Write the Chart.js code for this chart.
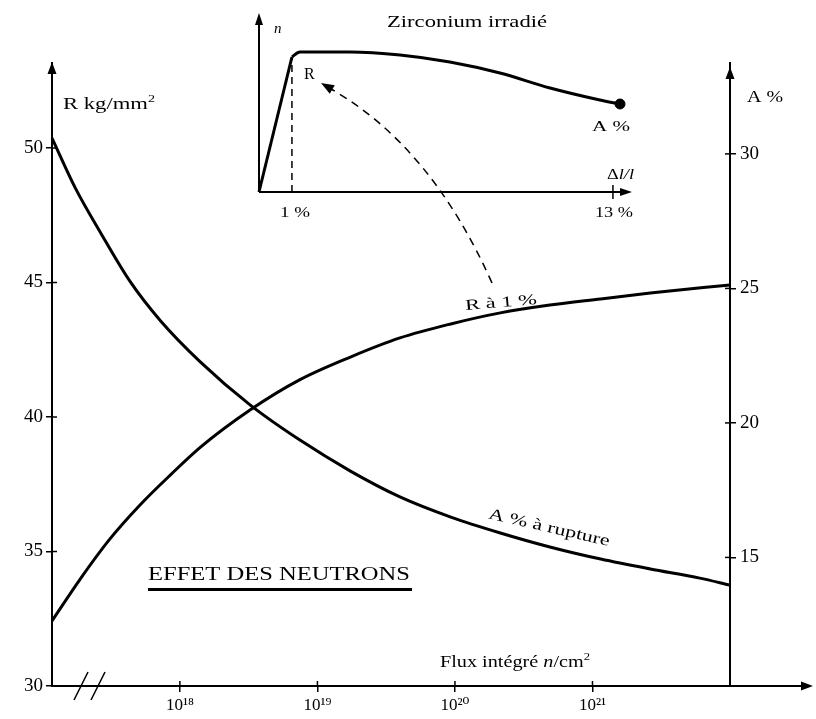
<!DOCTYPE html>
<html>
<head>
<meta charset="utf-8">
<script src="https://cdn.jsdelivr.net/npm/chart.js@4.4.1/dist/chart.umd.min.js"></script>
<style>
html, body { margin: 0; padding: 0; background: #fff; }
#wrap { position: relative; width: 816px; height: 719px; }
#wrap canvas { position: absolute; left: 0; top: 0; }
</style>
</head>
<body>
<div id="wrap">
  <canvas id="main" width="816" height="719"></canvas>
  <canvas id="inset" width="816" height="719"></canvas>
</div>
<script>
// main chart : flux (log10 n/cm2) -> R a 1 % (kg/mm2) and A % a rupture
const fluxR = [17.07, 17.27, 17.49, 17.71, 17.93, 18.15, 18.51, 18.87, 19.24, 19.60, 19.97, 20.33, 20.69, 21.06, 21.42, 22.0];
const resistR = [32.42, 33.94, 35.46, 36.73, 37.84, 38.88, 40.26, 41.38, 42.23, 42.94, 43.46, 43.87, 44.16, 44.39, 44.61, 44.91];
const fluxA = [17.07, 17.24, 17.42, 17.64, 17.86, 18.15, 18.51, 18.87, 19.24, 19.60, 19.97, 20.33, 20.69, 21.06, 21.42, 21.78, 22.0];
const allongA = [30.59, 28.73, 27.10, 25.24, 23.79, 22.26, 20.67, 19.37, 18.21, 17.25, 16.50, 15.91, 15.39, 14.94, 14.57, 14.23, 13.97];
const fluxTicks = [18, 19, 20, 21];
const rTicks = [30, 35, 40, 45, 50];
const aTicks = [15, 20, 25, 30];

// inset : traction curve of irradiated zirconium
const strainLin = [0, 1.21];
const stressLin = [0, 13.5];
const strainCurve = [1.21, 1.5, 3.34, 5.18, 7.01, 8.85, 10.69, 12.52, 13.26];
const stressCurve = [13.5, 14.0, 14.0, 13.7, 13.0, 11.9, 10.4, 9.2, 8.8];

const SERIF = '"Liberation Serif", "DejaVu Serif", serif';
const SUP = { '0': '⁰', '1': '¹', '2': '²', '3': '³', '4': '⁴', '5': '⁵', '6': '⁶', '7': '⁷', '8': '⁸', '9': '⁹' };

const pts = (xs, ys) => xs.map((x, i) => ({ x: x, y: ys[i] }));

function line(ctx, x1, y1, x2, y2) {
    ctx.beginPath();
    ctx.moveTo(x1, y1);
    ctx.lineTo(x2, y2);
    ctx.stroke();
}

function arrow(ctx, x, y, dx, dy, len, w) {
    len = len || 12; w = w || 4.5;
    ctx.beginPath();
    ctx.moveTo(x, y);
    ctx.lineTo(x - dx * len - dy * w, y - dy * len + dx * w);
    ctx.lineTo(x - dx * len + dy * w, y - dy * len - dx * w);
    ctx.closePath();
    ctx.fill();
}

// parts: [{t, italic, sup}]
function rich(ctx, parts, x, y, o) {
    o = o || {};
    const size = o.size || 16;
    ctx.save();
    ctx.textBaseline = 'middle';
    ctx.textAlign = 'left';
    const fontOf = p => (p.italic ? 'italic ' : '') + (p.sup ? Math.round(size * 0.65) : size) + 'px ' + SERIF;
    let w = 0;
    parts.forEach(p => { ctx.font = fontOf(p); p.w = ctx.measureText(p.t).width; w += p.w; });
    ctx.translate(x, y);
    if (o.rot) ctx.rotate(o.rot * Math.PI / 180);
    if (o.width) ctx.scale(o.width / w, 1);
    let cx = o.align === 'center' ? -w / 2 : 0;
    parts.forEach(p => {
        ctx.font = fontOf(p);
        ctx.fillText(p.t, cx, p.sup ? -size * 0.35 : 0);
        cx += p.w;
    });
    ctx.restore();
}

const mainDecor = {
    id: 'mainDecor',
    afterDraw(chart) {
        const { ctx, chartArea: a, scales } = chart;
        ctx.save();
        ctx.strokeStyle = '#000';
        ctx.fillStyle = '#000';
        ctx.lineWidth = 1.5;
        // inner halves of the tick marks
        rTicks.forEach(v => { const py = scales.yR.getPixelForValue(v); line(ctx, a.left, py, a.left + 5, py); });
        aTicks.forEach(v => { const py = scales.yA.getPixelForValue(v); line(ctx, a.right - 5, py, a.right, py); });
        fluxTicks.forEach(v => { const px = scales.x.getPixelForValue(v); line(ctx, px, a.bottom - 5, px, a.bottom); });

        // arrows
        arrow(ctx, a.left, a.top - 1, 0, -1);
        arrow(ctx, a.right, a.top + 4, 0, -1);
        ctx.lineWidth = 2;
        line(ctx, a.right, a.bottom, 804, a.bottom);
        arrow(ctx, 813, a.bottom, 1, 0);

        // axis break
        ctx.lineWidth = 1.5;
        line(ctx, 74, a.bottom + 14, 88, a.bottom - 14);
        line(ctx, 91, a.bottom + 14, 105, a.bottom - 14);

        // axis titles
        rich(ctx, [{ t: 'R kg/mm' }, { t: '2', sup: true }], 63, 105, { size: 16, width: 92 });
        rich(ctx, [{ t: 'A %' }], 747, 98, { size: 16, width: 36 });
        rich(ctx, [{ t: 'Flux intégré ' }, { t: 'n', italic: true }, { t: '/cm' }, { t: '2', sup: true }], 440, 663, { size: 16, width: 150 });

        // title
        rich(ctx, [{ t: 'EFFET DES NEUTRONS' }], 148, 575, { size: 18, width: 262 });
        ctx.fillRect(148, 588, 264, 3);

        // curve labels
        rich(ctx, [{ t: 'R à 1 %' }], 501, 303, { size: 15, width: 72, align: 'center', rot: -5 });
        rich(ctx, [{ t: 'A % à rupture' }], 549, 528, { size: 16, width: 124, align: 'center', rot: 13 });

        // dashed arrow to the inset
        ctx.lineWidth = 1.5;
        ctx.setLineDash([8, 6]);
        ctx.beginPath();
        ctx.moveTo(492, 283);
        ctx.quadraticCurveTo(431, 146, 331, 89);
        ctx.stroke();
        ctx.setLineDash([]);
        arrow(ctx, 321, 83, -0.867, -0.498, 13, 5);
        ctx.restore();
    }
};

const yTickFont = { family: SERIF, size: 19 };

new Chart(document.getElementById('main'), {
    type: 'line',
    data: {
        datasets: [
            {
                label: 'R à 1 %',
                data: pts(fluxR, resistR),
                yAxisID: 'yR',
                borderColor: '#000',
                borderWidth: 3,
                pointRadius: 0,
                cubicInterpolationMode: 'monotone',
                clip: false
            },
            {
                label: 'A % à rupture',
                data: pts(fluxA, allongA),
                yAxisID: 'yA',
                borderColor: '#000',
                borderWidth: 3,
                pointRadius: 0,
                cubicInterpolationMode: 'monotone',
                clip: false
            }
        ]
    },
    options: {
        responsive: false,
        animation: false,
        events: [],
        layout: { padding: { top: 63, left: 0, right: 0, bottom: 0 } },
        plugins: { legend: { display: false }, tooltip: { enabled: false } },
        scales: {
            x: {
                type: 'linear',
                min: 17.07,
                max: 22,
                afterBuildTicks: s => { s.ticks = fluxTicks.map(v => ({ value: v })); },
                afterFit: s => { s.height = 33; },
                grid: { drawOnChartArea: false, color: '#000', lineWidth: 1.5, tickLength: 6 },
                border: { color: '#000', width: 2 },
                ticks: {
                    color: '#000',
                    font: { family: SERIF, size: 17 },
                    padding: 3,
                    maxRotation: 0,
                    callback: v => '10' + String(v).split('').map(c => SUP[c]).join('')
                }
            },
            yR: {
                position: 'left',
                min: 30,
                max: 53.16,
                afterBuildTicks: s => { s.ticks = rTicks.map(v => ({ value: v })); },
                afterFit: s => { s.width = 52; },
                grid: { drawOnChartArea: false, color: '#000', lineWidth: 1.5, tickLength: 6 },
                border: { color: '#000', width: 2 },
                ticks: { color: '#000', font: yTickFont, padding: 3 }
            },
            yA: {
                position: 'right',
                min: 10.22,
                max: 33.38,
                afterBuildTicks: s => { s.ticks = aTicks.map(v => ({ value: v })); },
                afterFit: s => { s.width = 86; },
                grid: { drawOnChartArea: false, color: '#000', lineWidth: 1.5, tickLength: 6 },
                border: { color: '#000', width: 2 },
                ticks: { color: '#000', font: yTickFont, padding: 4 }
            }
        }
    },
    plugins: [mainDecor]
});

const insetDecor = {
    id: 'insetDecor',
    afterDraw(chart) {
        const { ctx, chartArea: a, scales } = chart;
        ctx.save();
        ctx.strokeStyle = '#000';
        ctx.fillStyle = '#000';
        ctx.lineWidth = 2;
        line(ctx, a.left, a.bottom, a.left, a.top + 8);
        arrow(ctx, a.left, a.top, 0, -1, 12, 4);
        line(ctx, a.left, a.bottom, a.right - 8, a.bottom);
        arrow(ctx, a.right, a.bottom, 1, 0, 12, 4);
        const p13 = scales.x.getPixelForValue(13);
        ctx.lineWidth = 1.5;
        line(ctx, p13, a.bottom - 7, p13, a.bottom + 7);

        rich(ctx, [{ t: 'Zirconium irradié' }], 387, 23, { size: 16, width: 160 });
        rich(ctx, [{ t: 'n', italic: true }], 274, 29, { size: 15 });
        rich(ctx, [{ t: 'R' }], 304, 75, { size: 16 });
        rich(ctx, [{ t: 'A %' }], 592, 127, { size: 15, width: 38 });
        rich(ctx, [{ t: 'Δ' }, { t: 'l/l', italic: true }], 607, 175, { size: 15, width: 27 });
        rich(ctx, [{ t: '13 %' }], 595, 213, { size: 15, width: 38 });
        rich(ctx, [{ t: '1 %' }], 280, 213, { size: 15, width: 30 });
        ctx.restore();
    }
};

new Chart(document.getElementById('inset'), {
    type: 'line',
    data: {
        datasets: [
            {
                data: pts(strainLin, stressLin),
                borderColor: '#000',
                borderWidth: 3,
                pointRadius: 0,
                tension: 0,
                clip: false
            },
            {
                data: pts(strainCurve, stressCurve),
                borderColor: '#000',
                borderWidth: 3,
                pointRadius: 0,
                cubicInterpolationMode: 'monotone',
                clip: false
            },
            {
                data: [{ x: strainLin[1], y: 0 }, { x: strainLin[1], y: stressLin[1] }],
                borderColor: '#000',
                borderWidth: 1.5,
                borderDash: [7, 5],
                pointRadius: 0,
                clip: false
            },
            {
                data: [{ x: strainCurve[strainCurve.length - 1], y: stressCurve[stressCurve.length - 1] }],
                showLine: false,
                pointRadius: 5,
                pointBackgroundColor: '#000',
                pointBorderColor: '#000',
                clip: false
            }
        ]
    },
    options: {
        responsive: false,
        animation: false,
        events: [],
        layout: { padding: { left: 259, right: 184, top: 13, bottom: 527 } },
        plugins: { legend: { display: false }, tooltip: { enabled: false } },
        scales: {
            x: { type: 'linear', min: 0, max: 13.7, display: false },
            y: { min: 0, max: 17.9, display: false }
        }
    },
    plugins: [insetDecor]
});
</script>
</body>
</html>
